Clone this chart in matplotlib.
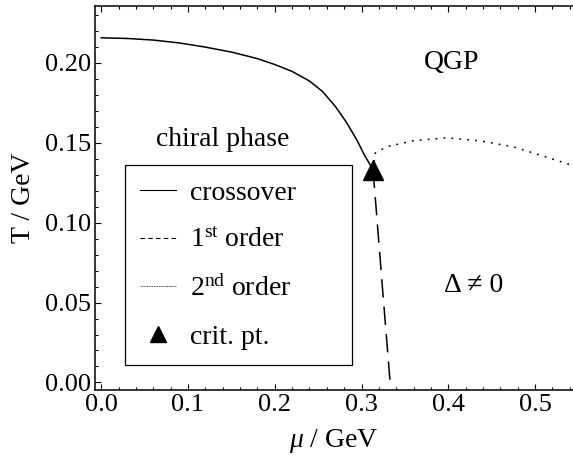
import matplotlib
matplotlib.use("Agg")
import matplotlib.pyplot as plt
from matplotlib.lines import Line2D

plt.rcParams['font.family'] = ['Liberation Serif', 'DejaVu Serif']
plt.rcParams['mathtext.fontset'] = 'custom'
plt.rcParams['mathtext.rm'] = 'Liberation Serif'
plt.rcParams['mathtext.it'] = 'Liberation Serif:italic'

# crossover line (mu, T) up to the critical point
mu_cross = [0.0, 0.03, 0.06, 0.09, 0.12, 0.15, 0.18, 0.20, 0.22, 0.24, 0.255,
            0.27, 0.2825, 0.295, 0.3035, 0.3133]
T_cross = [0.2155, 0.2151, 0.2141, 0.2123, 0.2097, 0.2066, 0.2025, 0.1988, 0.1945,
           0.1885, 0.1820, 0.1725, 0.1628, 0.1513, 0.1420, 0.1331]

# first order line, critical point down to T = 0
mu_first = [0.3133, 0.3230, 0.3330]
T_first = [0.1331, 0.0670, 0.0]

# second order line, critical point out to large mu
mu_second = [0.3133, 0.3156, 0.329, 0.3594, 0.3982, 0.4366, 0.4747, 0.5058, 0.5358, 0.544]
T_second = [0.1331, 0.1433, 0.1474, 0.1511, 0.1530, 0.1511, 0.1474, 0.1422, 0.1370, 0.1355]

mu_crit = [0.3133]
T_crit = [0.1331]

fig = plt.figure(figsize=(5.73, 4.55), dpi=100)
ax = fig.add_axes([95/573, 65/455, 478/573, 384/455])

lw = 1.1
ax.plot(mu_cross, T_cross, color='black', lw=lw)
ax.plot(mu_first, T_first, color='black', lw=lw, ls=(0, (12, 6)))
ax.plot(mu_second, T_second, color='black', lw=lw, ls=(0, (1.2, 4)))
ax.plot(mu_crit, T_crit, color='black', marker='^', ms=14, ls='none')

ax.set_xlim(-0.0072, 0.5438)
ax.set_ylim(-0.0047, 0.2354)
ax.set_xticks([0.0, 0.1, 0.2, 0.3, 0.4, 0.5])
ax.set_xticks([i * 0.02 for i in range(28)], minor=True)
ax.set_yticks([0.0, 0.05, 0.10, 0.15, 0.20])
ax.set_yticks([i * 0.01 for i in range(24)], minor=True)
ax.set_xticklabels(['0.0', '0.1', '0.2', '0.3', '0.4', '0.5'])
ax.set_yticklabels(['0.00', '0.05', '0.10', '0.15', '0.20'])

ax.spines['right'].set_visible(False)
for s in ['left', 'bottom', 'top']:
    ax.spines[s].set_linewidth(1.1)
ax.tick_params(which='both', direction='in', top=True, right=False,
               labelsize=19, width=0.8, pad=3)
ax.tick_params(which='major', length=4)
ax.tick_params(which='minor', length=2.5)

ax.set_xlabel(r'$\mu$ / GeV', fontsize=20, labelpad=8)
ax.set_ylabel('T / GeV', fontsize=20, labelpad=6)

ax.text(0.1403, 0.1522, 'chiral phase', fontsize=20, ha='center', va='center')
ax.text(0.404, 0.2003, 'QGP', fontsize=20, ha='center', va='center')
ax.text(0.4297, 0.0609, 'Δ ≠ 0', fontsize=20, ha='center', va='center')

handles = [
    Line2D([], [], color='black', lw=0.8),
    Line2D([], [], color='black', lw=0.8, ls=(0, (4, 3))),
    Line2D([], [], color='black', lw=0.6, ls=(0, (1, 1))),
    Line2D([], [], color='black', marker='^', ms=12, ls='none'),
]
labels = ['crossover', r'1$^{\rm st}$ order', r'2$^{\rm nd}$ order', 'crit. pt.']
leg = ax.legend(handles, labels, loc='upper left',
                bbox_to_anchor=(30/478, 0.0, 227/478, 225/384), mode='expand',
                borderaxespad=0, fontsize=20, frameon=True, fancybox=False,
                edgecolor='black', framealpha=1, borderpad=0.55,
                labelspacing=0.8, handlelength=1.3, handletextpad=0.5)
leg.get_frame().set_linewidth(0.9)

fig.savefig('out.png', dpi=100)
